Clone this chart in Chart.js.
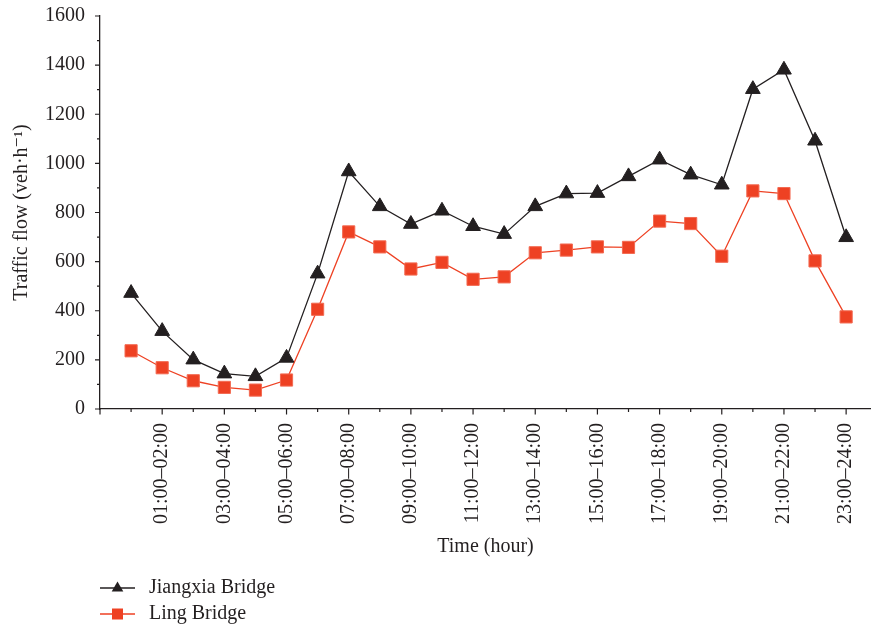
<!DOCTYPE html>
<html>
<head>
<meta charset="utf-8">
<script src="https://cdn.jsdelivr.net/npm/chart.js@4/dist/chart.umd.min.js"></script>
<style>
  html, body { margin: 0; padding: 0; background: #fff; }
  #wrap { width: 871px; height: 629px; }
</style>
</head>
<body>
<div id="wrap"><canvas id="c" width="871" height="629"></canvas></div>
<script>
// Hourly traffic flow on two bridges (veh·h⁻¹)
const categories = [
  '00:00–01:00', '01:00–02:00', '02:00–03:00', '03:00–04:00',
  '04:00–05:00', '05:00–06:00', '06:00–07:00', '07:00–08:00',
  '08:00–09:00', '09:00–10:00', '10:00–11:00', '11:00–12:00',
  '12:00–13:00', '13:00–14:00', '14:00–15:00', '15:00–16:00',
  '16:00–17:00', '17:00–18:00', '18:00–19:00', '19:00–20:00',
  '20:00–21:00', '21:00–22:00', '22:00–23:00', '23:00–24:00'
];
const jiangxiaBridge = [472, 317, 201, 144, 133, 208, 551, 967, 825, 753, 807, 744,
                        712, 825, 877, 879, 947, 1015, 954, 913, 1302, 1381, 1092, 699];
const lingBridge = [237, 168, 115, 88, 77, 118, 406, 721, 660, 570, 597, 528,
                    538, 636, 647, 660, 658, 765, 755, 622, 888, 877, 603, 375];
const yTickValues = [0, 200, 400, 600, 800, 1000, 1200, 1400, 1600];

const INK = '#231f20';
const RED = '#ee4123';
const FONT = "'Liberation Serif', 'DejaVu Serif', serif";

const toPoints = arr => arr.map((v, i) => ({ x: i, y: v }));

// Major/minor tick marks drawn outward from both axes
const tickMarks = {
  id: 'tickMarks',
  afterDraw(chart) {
    const { ctx, scales: { x, y } } = chart;
    ctx.save();
    ctx.strokeStyle = INK;
    ctx.lineWidth = 1.2;
    ctx.beginPath();
    for (let v = 0; v <= 1600; v += 100) {
      const py = y.getPixelForValue(v);
      const len = v % 200 === 0 ? 5 : 3;
      ctx.moveTo(x.left - len, py);
      ctx.lineTo(x.left, py);
    }
    for (let i = -1; i < categories.length; i++) {
      const px = x.getPixelForValue(i);
      const len = Math.abs(i % 2) === 1 ? 5.5 : 3;
      ctx.moveTo(px, y.bottom);
      ctx.lineTo(px, y.bottom + len);
    }
    ctx.stroke();
    ctx.restore();
  }
};

// Legend under the plot: line sample with marker, then series name
const bottomLegend = {
  id: 'bottomLegend',
  afterDraw(chart) {
    const ctx = chart.ctx;
    const items = [
      { text: 'Jiangxia Bridge', color: INK, shape: 'triangle', y: 588 },
      { text: 'Ling Bridge', color: RED, shape: 'square', y: 614 }
    ];
    ctx.save();
    items.forEach(it => {
      ctx.strokeStyle = it.color;
      ctx.lineWidth = 1.3;
      ctx.beginPath();
      ctx.moveTo(100, it.y);
      ctx.lineTo(135, it.y);
      ctx.stroke();
      ctx.fillStyle = it.color;
      ctx.beginPath();
      const cx = 117.5;
      if (it.shape === 'triangle') {
        ctx.moveTo(cx, it.y - 6.5);
        ctx.lineTo(cx + 5.8, it.y + 3.5);
        ctx.lineTo(cx - 5.8, it.y + 3.5);
        ctx.closePath();
      } else {
        ctx.rect(cx - 5.5, it.y - 5.5, 11, 11);
      }
      ctx.fill();
      ctx.fillStyle = INK;
      ctx.font = '20px ' + FONT;
      ctx.textBaseline = 'middle';
      ctx.textAlign = 'left';
      ctx.fillText(it.text, 149, it.y);
    });
    ctx.restore();
  }
};

new Chart(document.getElementById('c'), {
  type: 'line',
  data: {
    datasets: [
      {
        label: 'Jiangxia Bridge',
        data: toPoints(jiangxiaBridge),
        borderColor: INK,
        borderWidth: 1.3,
        pointStyle: 'triangle',
        pointRadius: 8.5,
        pointBackgroundColor: INK,
        pointBorderColor: INK,
        pointBorderWidth: 1,
        tension: 0
      },
      {
        label: 'Ling Bridge',
        data: toPoints(lingBridge),
        borderColor: RED,
        borderWidth: 1.3,
        pointStyle: 'rect',
        pointRadius: 8.6,
        pointBackgroundColor: RED,
        pointBorderColor: '#f36a52',
        pointBorderWidth: 1,
        tension: 0
      }
    ]
  },
  options: {
    responsive: false,
    animation: false,
    events: [],
    layout: { autoPadding: false, padding: { top: 16, right: 0, bottom: 66, left: 0 } },
    plugins: {
      legend: { display: false },
      tooltip: { enabled: false }
    },
    scales: {
      x: {
        type: 'linear',
        min: -1,
        max: 23.8,
        afterBuildTicks(scale) {
          scale.ticks = categories.map((_, i) => ({ value: i }));
        },
        afterFit(scale) {
          scale.height = 154;
          scale.paddingLeft = 0;
          scale.paddingRight = 0;
        },
        grid: { display: true, drawOnChartArea: false, color: 'rgba(0,0,0,0)', tickLength: 5 },
        border: { display: true, color: INK, width: 1.3 },
        ticks: {
          autoSkip: false,
          maxRotation: 90,
          minRotation: 90,
          padding: 9,
          color: INK,
          font: { family: FONT, size: 20 },
          callback: v => (v % 2 === 1 && categories[v]) ? categories[v] : null
        },
        title: {
          display: true,
          text: 'Time (hour)',
          color: INK,
          font: { family: FONT, size: 20 },
          padding: { top: 0, bottom: 4 }
        }
      },
      y: {
        min: 0,
        max: 1600,
        afterFit(scale) {
          scale.width = 100;
          scale.paddingTop = 0;
          scale.paddingBottom = 0;
        },
        afterBuildTicks(scale) { scale.ticks = yTickValues.map(v => ({ value: v })); },
        grid: { display: true, drawOnChartArea: false, color: 'rgba(0,0,0,0)', tickLength: 5 },
        border: { display: true, color: INK, width: 1.3 },
        ticks: {
          padding: 10,
          color: INK,
          font: { family: FONT, size: 20 },
          callback: v => String(v)
        },
        title: {
          display: true,
          text: 'Traffic flow (veh·h⁻¹)',
          color: INK,
          font: { family: FONT, size: 20 },
          padding: { top: 10, bottom: 0 }
        }
      }
    }
  },
  plugins: [tickMarks, bottomLegend]
});
</script>
</body>
</html>
